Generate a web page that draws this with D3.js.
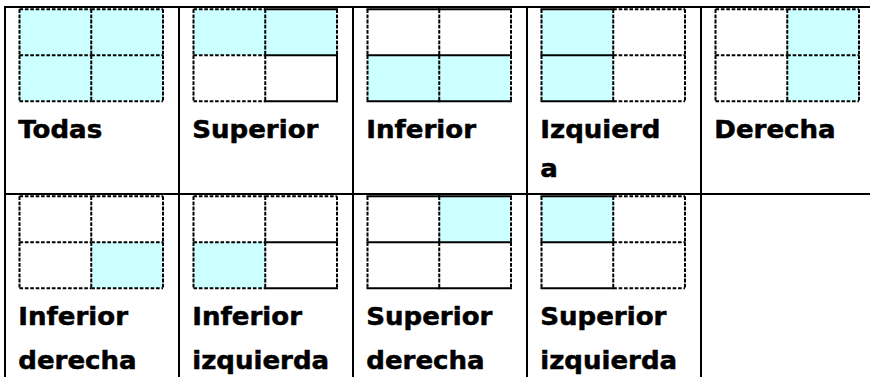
<!DOCTYPE html>
<html>
<head>
<meta charset="utf-8">
<script src="https://cdn.jsdelivr.net/npm/d3@7"></script>
<style>
  html, body { margin: 0; padding: 0; background: #fff; }
  svg { display: block; }
</style>
</head>
<body>
<svg id="chart" width="870" height="377"></svg>
<script>
// ---- data ----
const options = ["Todas", "Superior", "Inferior", "Izquierda", "Derecha",
                 "Inferior derecha", "Inferior izquierda", "Superior derecha", "Superior izquierda"];
const labelLines = [["Todas"], ["Superior"], ["Inferior"], ["Izquierd", "a"], ["Derecha"],
                    ["Inferior", "derecha"], ["Inferior", "izquierda"], ["Superior", "derecha"], ["Superior", "izquierda"]];
// highlighted quadrants: [top-left, top-right, bottom-left, bottom-right]
const highlighted = [[1,1,1,1],[1,1,0,0],[0,0,1,1],[1,0,1,0],[0,1,0,1],
                     [0,0,0,1],[0,0,1,0],[0,1,0,0],[1,0,0,0]];
// horizontal edge styles: [top-L, top-R, mid-L, mid-R, bottom-L, bottom-R]  (d = dashed, s = solid)
const hEdges = [["d","d","d","d","d","d"],["d","s","d","s","d","s"],["s","s","s","s","s","s"],
                ["s","d","s","d","s","d"],["d","d","d","d","d","d"],["d","d","d","d","d","d"],
                ["d","d","d","s","d","s"],["s","s","s","s","s","s"],["s","d","s","d","s","d"]];
// vertical edge styles: [left-T, left-B, mid-T, mid-B, right-T, right-B]
const vEdges = [["d","d","d","d","d","d"],["d","d","d","d","d","s"],["d","d","d","d","d","d"],
                ["d","d","d","d","d","d"],["d","d","d","d","d","d"],["d","d","d","d","d","d"],
                ["d","d","d","d","d","d"],["d","d","d","d","d","d"],["d","d","d","d","d","d"]];

// ---- layout ----
const nCols = 5, nRows = 2;
const svg = d3.select("#chart");
const xCol = d3.scaleLinear().domain([0, nCols]).range([5, 875]);
const yRow = d3.scaleLinear().domain([0, nRows]).range([7, 381]);
const iconW = 143.5, iconH = 92;
const qx = d3.scaleLinear().domain([0, 2]).range([0, iconW]);
const qy = d3.scaleLinear().domain([0, 2]).range([0, iconH]);
const fill = "#ccffff";
const lineHeights = [39, 44];

const cells = options.map((name, i) => ({
  name, i, col: i % nCols, row: Math.floor(i / nCols),
  lines: labelLines[i], hl: highlighted[i], h: hEdges[i], v: vEdges[i]
}));

const g = svg.selectAll("g.cell").data(cells).join("g")
  .attr("class", "cell")
  .attr("transform", d => `translate(${xCol(d.col) + 14.5},${yRow(d.row) + 2.2})`);

g.each(function(d) {
  const sel = d3.select(this);
  const quads = d.hl.map((v, k) => ({ v, cx: k % 2, cy: Math.floor(k / 2) }));
  sel.selectAll("rect.q").data(quads).join("rect")
    .attr("class", "q")
    .attr("x", q => qx(q.cx)).attr("y", q => qy(q.cy))
    .attr("width", qx(1) - qx(0)).attr("height", qy(1) - qy(0))
    .attr("fill", q => q.v ? fill : "#fff");

  const segs = [];
  [0, 1, 2].forEach((r, ri) => {
    [0, 1].forEach(c => {
      segs.push({ x1: qx(c), x2: qx(c + 1), y1: qy(r), y2: qy(r), s: d.h[ri * 2 + c], dir: "h" });
    });
  });
  [0, 1, 2].forEach((c, ci) => {
    [0, 1].forEach(r => {
      segs.push({ x1: qx(c), x2: qx(c), y1: qy(r), y2: qy(r + 1), s: d.v[ci * 2 + r], dir: "v" });
    });
  });
  segs.sort((a, b) => (a.s === "s") - (b.s === "s"));
  sel.selectAll("line.e").data(segs).join("line")
    .attr("class", "e")
    .attr("x1", s => s.x1).attr("x2", s => s.x2)
    .attr("y1", s => s.y1).attr("y2", s => s.y2)
    .attr("stroke", "#000")
    .attr("stroke-width", 2)
    .attr("stroke-linecap", s => s.s === "s" ? "square" : "butt")
    .attr("stroke-dasharray", s => s.s === "d" ? (s.dir === "h" ? "3.6,1.8" : "3.8,1.4") : null);

  sel.selectAll("text").data(d.lines).join("text")
    .attr("transform", (t, li) => `translate(-1.2,${129 + li * lineHeights[d.row]}) scale(1.085,1)`)
    .attr("font-family", "'DejaVu Sans', Verdana, sans-serif")
    .attr("font-weight", "bold")
    .attr("font-size", 24)
    .attr("fill", "#000")
    .attr("stroke", "#000")
    .attr("stroke-width", 0.5)
    .text(t => t);
});

// table grid lines
const gridV = d3.range(nCols + 1);
svg.selectAll("line.gv").data(gridV).join("line")
  .attr("class", "gv")
  .attr("x1", c => xCol(c)).attr("x2", c => xCol(c))
  .attr("y1", yRow(0) - 1).attr("y2", yRow(nRows))
  .attr("stroke", "#000").attr("stroke-width", 2);
const gridH = d3.range(nRows + 1);
svg.selectAll("line.gh").data(gridH).join("line")
  .attr("class", "gh")
  .attr("x1", xCol(0) - 1).attr("x2", xCol(nCols) + 1)
  .attr("y1", r => yRow(r)).attr("y2", r => yRow(r))
  .attr("stroke", "#000").attr("stroke-width", 2);
</script>
</body>
</html>
